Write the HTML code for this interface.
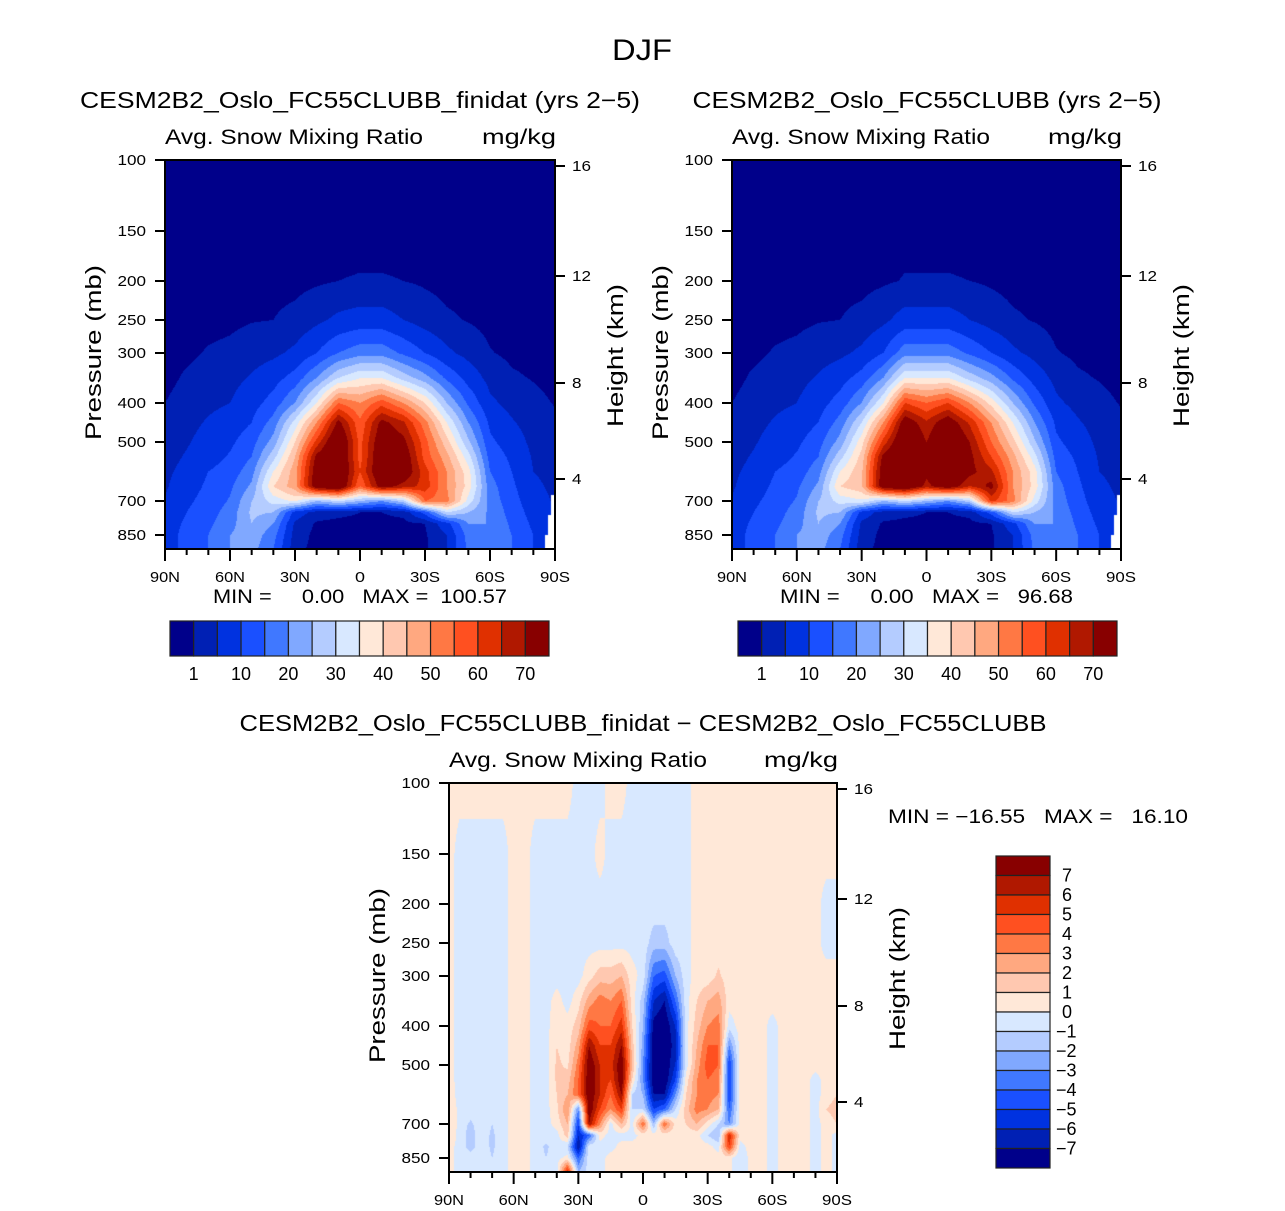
<!DOCTYPE html>
<html><head><meta charset="utf-8">
<style>
html,body{margin:0;padding:0;background:#fff;}
#wrap{position:relative;width:1285px;height:1211px;overflow:hidden;font-family:"Liberation Sans",sans-serif;}
canvas{position:absolute;}
svg{position:absolute;left:0;top:0;}
text{font-family:"Liberation Sans",sans-serif;fill:#000;white-space:pre;}
</style></head>
<body>
<div id="wrap">
<canvas id="c1" width="390" height="389" style="left:165px;top:160px"></canvas>
<canvas id="c2" width="389" height="389" style="left:732px;top:160px"></canvas>
<canvas id="c3" width="388" height="389" style="left:449px;top:783px"></canvas>
<svg id="svg" width="1285" height="1211"></svg>
</div>
<script>
// ---- data ----
const lats=[90,80,70,60,50,40,30,20,10,0,-10,-20,-30,-40,-50,-60,-70,-80,-90];
const plevs=[100,150,200,250,300,350,400,450,500,550,600,650,700,750,800,850,1000];
const absLevels=[1,5,10,15,20,25,30,35,40,45,50,55,60,65,70];
const absTickLabels=[1,10,20,30,40,50,60,70];
const diffLevels=[-7,-6,-5,-4,-3,-2,-1,0,1,2,3,4,5,6,7];
const colors=["#00008a","#0020b4","#0032e0","#1a50ff","#4078ff","#80a8ff","#b4ccff","#d8e8ff","#ffe8d8","#ffc8b0","#ffa880","#ff7844","#ff5020","#e03000","#b01800","#880000"];
const pressTicks=[100,150,200,250,300,400,500,700,850];
const heightTicks=[16,12,8,4];
const latTickLabels=["90N","60N","30N","0","30S","60S","90S"];
const field1=[
[0,0,0,0,0,0,1,1.8,2.5,3.2,4,4.5,5.2,6,7,7,7],
[0,0,0,0,0.3,1.5,2.5,3.5,4.5,5.5,6.5,7.5,9,10,11,12,12],
[0,0,0,0,1.3,2.5,4,5.5,7,8,10,11,12,13,14,15,15],
[0,0,0,0.3,1.8,3.5,5,7,9,10.5,12,14,15.5,17,18,20,20],
[0,0,0,0.8,3,5.5,8,10,13,15,18,21,25,26,25,23,22],
[0,0,0,1,4,8,12,17,22,28,35,40,32,25,20,17,15],
[0,0,0,2,6,12,20,32,40,45,48,48,36,8,4,3,2],
[0,0,0.5,4,10,20,35,50,62,72,75,76,25,3,0.5,0,0],
[0,0,1,6,15,30,55,72,80,80,80,80,30,2,0,0,0],
[0,0,1.2,7,18,35,50,56,58,58,60,55,25,1,0,0,0],
[0,0,1.2,7,18,35,58,72,76,78,78,74,20,1,0,0,0],
[0,0,1,5,14,28,50,66,72,76,76,68,28,2,0,0,0],
[0,0,0.5,3,10,22,40,52,57,58,62,63,55,12,1,0.5,0.3],
[0,0,0,1.5,6,14,25,35,42,47,50,50,52,30,8,5,5],
[0,0,0,0.8,3.5,8,14,20,26,32,37,38,33,25,20,17,16],
[0,0,0,0,1.2,3.5,6,9,11,13,15,17,18,19,20,20,20],
[0,0,0,0,0.3,1.5,3.5,5.5,7.5,9,10,11,12,13,14,15,15],
[0,0,0,0,0,0.8,2,3,3.8,4.5,5,6,7,8,9,10,10],
[0,0,0,0,0,0,0.8,1.6,2.3,3,3.5,4,4.5,5,5.5,6,6]];
const field2=[
[0,0,0,0,0,0,1,1.8,2.5,3.2,4,4.5,5.2,6,7,7,7],
[0,0,0,0,0.3,1.5,2.5,3.5,4.5,5.5,6.5,7.5,9,10,11,12,12],
[0,0,0,0,1.3,2.5,4,5.5,7,8,10,11,12,13,14,15,15],
[0,0,0,0.3,1.8,3.5,5,7,9,10.5,12,14,15.5,17,18,20,20],
[0,0,0,0.8,3,5.5,8,10,13,15,18,21,25,26,25,23,22],
[0,0,0,1,4,8,12,17,22,28,35,40,32,25,20,17,15],
[0,0,0,2,6,12,20,30,38,42,44,44,34,8,4,3,2],
[0,0,0.5,4,10,20,35,50,62,72,75,76,25,3,0.5,0,0],
[0,0,1.2,7,18,35,60,75,80,80,80,80,30,2,0,0,0],
[0,0,1.2,7,18,35,55,66,70,72,72,68,25,1,0,0,0],
[0,0,1.2,7,18,35,60,75,80,80,80,76,20,1,0,0,0],
[0,0,1,5,14,28,50,64,70,72,72,65,28,2,0,0,0],
[0,0,0.5,3,10,22,38,50,55,60,66,72,62,12,1,0.5,0.3],
[0,0,0,1.5,6,14,25,35,42,47,50,50,52,30,8,5,5],
[0,0,0,0.8,3.5,8,14,20,26,32,37,38,33,25,20,17,16],
[0,0,0,0,1.2,3.5,6,9,11,13,15,17,18,19,20,20,20],
[0,0,0,0,0.3,1.5,3.5,5.5,7.5,9,10,11,12,13,14,15,15],
[0,0,0,0,0,0.8,2,3,3.8,4.5,5,6,7,8,9,10,10],
[0,0,0,0,0,0,0.8,1.6,2.3,3,3.5,4,4.5,5,5.5,6,6]];
const diffRows=[
[.4,.4,.4,.4,.4,.4,.4,.4,.4,.4,.4,.4,-.4,-.4,-.4,.4,.4,-.4,-.4,-.4,-.4,-.4,-.4,.4,.4,.4,.4,.4,.4,.4,.4,.4,.4,.4,.4,.4,.4],
[.4,-.4,-.4,-.4,-.4,-.4,.4,.4,-.4,-.4,-.4,-.4,-.4,-.4,.4,-.4,-.4,-.4,-.4,-.4,-.4,-.4,-.4,.4,.4,.4,.4,.4,.4,.4,.4,.4,.4,.4,.4,.4,.4],
[.4,-.4,-.4,-.4,-.4,-.4,.4,.4,-.4,-.4,-.4,-.4,-.4,-.4,-.4,-.4,-.4,-.4,-.4,-.4,-.4,-.4,-.4,.4,.4,.4,.4,.4,.4,.4,.4,.4,.4,.4,.4,-.4,-.4],
[.4,-.4,-.4,-.4,-.4,-.4,.4,.4,-.4,-.4,-.4,-.4,-.4,-.4,-.4,-.4,-.4,-.4,-.4,-1.5,-1.5,-.4,-.4,.4,.4,.4,.4,.4,.4,.4,.4,.4,.4,.4,.4,-.4,-.4],
[.4,-.4,-.4,-.4,-.4,-.4,.4,.4,-.4,-.4,-.4,-.4,-.4,.6,1.5,1.5,2,.4,-.4,-4,-4.5,-2,-.4,.4,.4,1.2,.4,.4,.4,.4,.4,.4,.4,.4,.4,.4,.4],
[.4,-.4,-.4,-.4,-.4,-.4,.4,.4,-.4,-.4,.4,-.4,.6,2.5,3.5,3,4,.5,-1.5,-6,-7,-4,-.4,1,2,2.5,.4,.4,.4,.4,.4,.4,.4,.4,.4,.4,.4],
[.4,-.4,-.4,-.4,-.4,-.4,.4,.4,-.4,-.4,.8,.4,1.5,4.5,4,4,5.5,1,-2,-7.5,-8,-6,-.4,1.5,3,3.5,-.5,.4,.4,.4,-.4,.4,.4,.4,.4,.4,.4],
[.4,-.4,-.4,-.4,-.4,-.4,.4,.4,-.4,-.4,1,.5,2.5,7,5,5,7,1.5,-2.5,-8,-8,-6.5,-.4,2,4,4,-3,.4,.4,.4,-.4,.4,.4,.4,.4,.4,.4],
[.4,-.4,-.4,-.4,-.4,-.4,.4,.4,-.4,-.4,1.2,.8,3.5,8,6,5.5,8,2,-3,-8,-8,-6,-.5,2.5,4.5,4,-5,.4,.4,.4,-.4,.4,.4,.4,.4,.4,.4],
[.4,-.4,-.4,-.4,-.4,-.4,.4,.4,-.4,-.4,1.2,1.5,4,8,6,5,8,1,-3,-8,-8,-5,.5,3,4,3.5,-5,.4,.4,.4,-.4,.4,.4,.4,-.4,.4,.4],
[.5,-.4,-.4,-.4,-.4,-.4,.4,.4,-.4,-.4,1,2,4,8,6,4,7,-1,-2,-7,-7,-3,1,3,3.5,3,-5,.4,.4,.4,-.4,.4,.4,.4,-.4,.4,1],
[1,-.4,-.4,-.4,-.4,-.4,.4,.4,-.4,-.4,.8,3,-3,8,5,3,5,-1,-1,-5,-4,-1,1.5,3.5,3,2,-4,.4,.4,.4,-.4,.4,.4,.4,-.4,1,1.5],
[1,-.4,-1.2,-.4,-1,-.4,.4,.4,-.4,-.4,.4,2,-5,7,3,-.4,2,-.4,4,-2,4,.5,1,2,.5,-1,-3,.4,.4,.4,-.4,.4,.4,.4,-.4,.4,1],
[.8,-.4,-1.5,-.4,-1.2,-.4,.4,.4,-.4,-.4,-.4,1.5,-6,-4,.4,-.4,-.4,-.4,.4,.4,.4,.4,.4,.4,-1,-2,6,.4,.4,.4,-.4,.4,.4,.4,-.4,.4,-.4],
[.4,-.4,-1.5,-.4,-1.2,-.4,.4,.4,-.4,-1.2,-.4,-1,-7,-.4,-.4,-.4,.4,.4,.4,.4,.4,.4,.4,.4,.4,-.4,5,-.4,.4,.4,-.4,.4,.4,.4,-.4,.4,-.4],
[.4,-.4,-.4,-.4,-1,-.4,.4,.4,-.4,-1,-.4,.4,-4,-.4,-.4,.4,.4,.4,.4,.4,.4,.4,.4,.4,.4,.4,.4,-1,.4,.4,-.4,.4,.4,.4,-.4,.4,-.4],
[.4,-.4,-.4,-.4,-.4,-.4,.4,.4,-.4,-.4,-.4,6,-2,-.4,-.4,.4,.4,.4,.4,.4,.4,.4,.4,.4,.4,.4,.4,-1,.4,.4,-.4,.4,.4,.4,-.4,.4,-.4]];

// ---- axis functions ----
const pMap=[[100,0],[150,71],[200,121],[250,160],[300,193],[400,243],[500,282],[700,341],[850,375],[1000,389]];
function yOfP(p){for(let i=0;i<pMap.length-1;i++){const a=pMap[i],b=pMap[i+1];if(p<=b[0]){return a[1]+(p-a[0])/(b[0]-a[0])*(b[1]-a[1]);}}return 389;}
const hMap=[[16,6],[12,116],[8,223],[4,319]];
function yOfH(h){for(const m of hMap) if(m[0]===h) return m[1];return 0;}
function xOfLat(lat,w){return (90-lat)/180*w;}
function binIndex(v,levels){let k=0;for(const t of levels) if(v>=t) k++;return k;}
function hex(c){return [parseInt(c.slice(1,3),16),parseInt(c.slice(3,5),16),parseInt(c.slice(5,7),16)];}
const rgb=colors.map(hex);

function render(canvas,getVal,ncols,levels){
  const ctx=canvas.getContext('2d');const w=canvas.width,h=canvas.height;
  const img=ctx.createImageData(w,h);
  const rowsY=plevs.map(yOfP);
  for(let py=0;py<h;py++){
    const y=py+0.5;let k=0;while(k<rowsY.length-2&&y>rowsY[k+1])k++;
    let fy=(y-rowsY[k])/(rowsY[k+1]-rowsY[k]);fy=Math.max(0,Math.min(1,fy));
    for(let px=0;px<w;px++){
      const fx=(px+0.5)/w*(ncols-1);let c=Math.min(Math.floor(fx),ncols-2);const tx=fx-c;
      const v=(getVal(c,k)*(1-tx)+getVal(c+1,k)*tx)*(1-fy)+(getVal(c,k+1)*(1-tx)+getVal(c+1,k+1)*tx)*fy;
      const col=rgb[binIndex(v,levels)];const o=(py*w+px)*4;
      img.data[o]=col[0];img.data[o+1]=col[1];img.data[o+2]=col[2];img.data[o+3]=255;
    }
  }
  ctx.putImageData(img,0,0);
}
render(document.getElementById('c1'),(c,r)=>field1[c][r],lats.length,absLevels);
render(document.getElementById('c2'),(c,r)=>field2[c][r],lats.length,absLevels);
render(document.getElementById('c3'),(c,r)=>diffRows[r][c],diffRows[0].length,diffLevels);
[document.getElementById('c1'),document.getElementById('c2')].forEach(cv=>{
  const ctx=cv.getContext('2d');ctx.fillStyle='#fff';ctx.beginPath();
  ctx.moveTo(cv.width-10,389);ctx.lineTo(cv.width-10,375);ctx.lineTo(cv.width-7,375);ctx.lineTo(cv.width-7,355);ctx.lineTo(cv.width-4,355);ctx.lineTo(cv.width-4,335);ctx.lineTo(cv.width,335);ctx.lineTo(cv.width,389);ctx.fill();
});

// ---- annotations ----
const svg=document.getElementById('svg');const NS='http://www.w3.org/2000/svg';
function el(tag,attrs,parent){const e=document.createElementNS(NS,tag);for(const k in attrs)e.setAttribute(k,attrs[k]);(parent||svg).appendChild(e);return e;}
function txt(x,y,s,size,anchor,parent,rot,len){const t=el('text',{x:x,y:y,'font-size':size,'text-anchor':anchor||'start'},parent);if(rot)t.setAttribute('transform','rotate(-90 '+x+' '+y+')');if(len){t.setAttribute('textLength',len);t.setAttribute('lengthAdjust','spacingAndGlyphs');}t.textContent=s;return t;}

const title=txt(642,60,'DJF',30,'middle',null,false,60);



function panel(X,Y,W,H,titleStr,titleX,titleLen,name){
  const g=el('g',{});
  
  
  if(titleStr){const t=txt(titleX,108,titleStr,23,'middle',g,false,titleLen);
  
  }
  const ls=txt(X,Y-16,'Avg. Snow Mixing Ratio',21,'start',g,false,258);
  
  
  const rs=txt(X+W+1,Y-16,'mg/kg',21,'end',g,false,74);
  
  
  el('rect',{x:X,y:Y,width:W,height:H,fill:'none',stroke:'#000','stroke-width':2},g);
  pressTicks.forEach(p=>{const y=Y+yOfP(p);el('line',{x1:X-10,x2:X,y1:y,y2:y,stroke:'#000','stroke-width':2},g);
    const l=txt(X-19,y+5,String(p),15,'end',g,false,String(p).length*9.5);
    
    });
  heightTicks.forEach(hh=>{const y=Y+yOfH(hh);el('line',{x1:X+W,x2:X+W+10,y1:y,y2:y,stroke:'#000','stroke-width':2},g);
    const l=txt(X+W+17,y+5,String(hh),15,'start',g,false,String(hh).length*9.5);
    
    });
  for(let lat=90;lat>=-90;lat-=10){const x=X+xOfLat(lat,W);const major=lat%30===0;
    el('line',{x1:x,x2:x,y1:Y+H,y2:Y+H+(major?12:6),stroke:'#000','stroke-width':2},g);}
  latTickLabels.forEach((s,i)=>{const l=txt(X+i*W/6,Y+H+33,s,15,'middle',g,false,s.length*10);
    
    });
  const ya=txt(X-64,Y+H/2-160+158,'Pressure (mb)',22,'middle',g,true,175);
  
  
  const ha=txt(X+W+68,Y+H/2+1,'Height (km)',22,'middle',g,true,143);
  
  
}
panel(165,160,390,389,'CESM2B2_Oslo_FC55CLUBB_finidat (yrs 2\u22125)',360,560,'panel-finidat');
panel(732,160,389,389,'CESM2B2_Oslo_FC55CLUBB (yrs 2\u22125)',927,469,'panel-control');
panel(449,783,388,389,'',643,0,'panel-difference');
const dt=txt(643,731,'CESM2B2_Oslo_FC55CLUBB_finidat \u2212 CESM2B2_Oslo_FC55CLUBB',23,'middle',null,false,807);



const m1=txt(213,603,'MIN =     0.00   MAX =  100.57',19,'start',null,false,294);


const m2=txt(780,603,'MIN =     0.00   MAX =   96.68',19,'start',null,false,293);


const m3=txt(888,823,'MIN = \u221216.55   MAX =   16.10',19,'start',null,false,300);



function hbar(X,name){
  const g=el('g',{});
  
  
  const bw=(549-170)/colors.length;
  colors.forEach((c,i)=>{const r=el('rect',{x:X+i*bw,y:621,width:bw,height:35,fill:c,stroke:'#222','stroke-width':1.2},g);
    
    });
  absTickLabels.forEach(v=>{const k=absLevels.indexOf(v)+1;const l=txt(X+k*bw,680,String(v),18,'middle',g);
    
    });
}
hbar(170,'colorbar-finidat');hbar(738,'colorbar-control');
(function(){
  const g=el('g',{});
  
  
  const bh=(1168-856)/colors.length;
  colors.slice().reverse().forEach((c,i)=>{const r=el('rect',{x:996,y:856+i*bh,width:54,height:bh,fill:c,stroke:'#222','stroke-width':1.2},g);
    
    });
  diffLevels.slice().reverse().forEach((v,i)=>{const s=(v<0?'\u2212':'')+Math.abs(v);
    const l=txt(v<0?1056:1062,856+(i+1)*bh+6,s,18,'start',g);
    
    });
})();
</script>
</body></html>
